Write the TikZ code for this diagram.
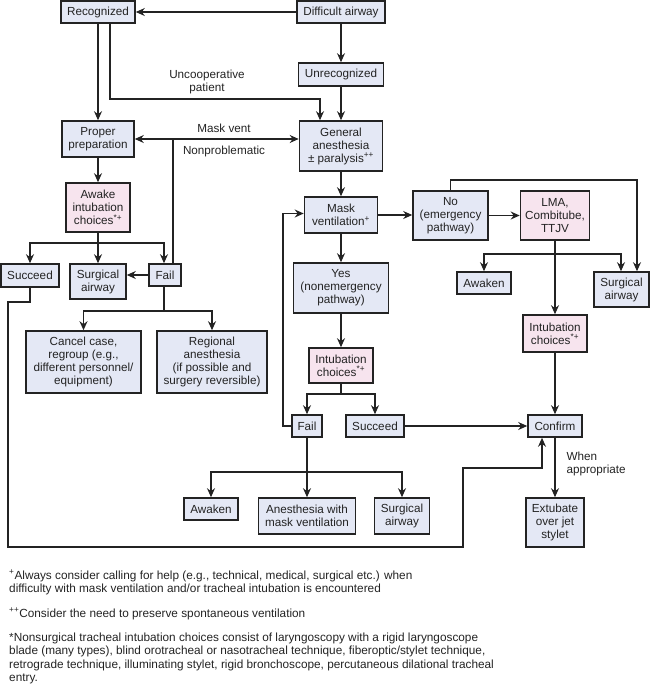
\documentclass[tikz,border=0pt]{standalone}
\usepackage{fontspec}
\setmainfont{Liberation Sans}
\usetikzlibrary{arrows.meta, positioning, calc}
\definecolor{boxblue}{RGB}{228, 232, 245}
\definecolor{boxpink}{RGB}{247, 228, 238}
\definecolor{inkgray}{RGB}{35, 35, 35}

\begin{document}
\begin{tikzpicture}[x=1pt, y=-1pt,
  box/.style={draw=inkgray, fill=boxblue, line width=1.6pt, inner sep=0pt, align=center, font=\fontsize{11.7}{13}\selectfont, text=inkgray},
  pinkbox/.style={box, fill=boxpink},
  flow/.style={-{Stealth[length=9pt, width=8pt]}, line width=1.3pt, draw=inkgray},
  link/.style={line width=1.3pt, draw=inkgray},
  note/.style={font=\fontsize{11.7}{13}\selectfont, text=inkgray, align=center},
  foot/.style={font=\fontsize{11.8}{13.2}\selectfont, text=inkgray, align=left, anchor=north west, inner sep=0pt}]
  \useasboundingbox (0,0) rectangle (650,686);

  % Recognition
  \node[box, minimum width=74, minimum height=22] (recog) at (98,12) {Recognized};
  \node[box, minimum width=88, minimum height=22] (diff) at (341,12) {Difficult airway};
  \node[box, minimum width=85, minimum height=23] (unrecog) at (341,74.5) {Unrecognized};
  \node[box, minimum width=72, minimum height=36] (prep) at (98,139) {Proper\\preparation};
  \node[box, minimum width=83, minimum height=50] (ga) at (341,146) {General\\anesthesia\\± paralysis\textsuperscript{++}};
  \node[note] (uncoop) at (207,82) {Uncooperative\\patient};
  \node[note] (mvlabel) at (224,128) {Mask vent};
  \node[note] (nonprob) at (224,151) {Nonproblematic};

  % Awake pathway
  \node[pinkbox, minimum width=64, minimum height=49] (awake) at (98,207.5) {Awake\\intubation\\choices\textsuperscript{*+}};
  \node[box, minimum width=58, minimum height=23] (succL) at (30,275.5) {Succeed};
  \node[box, minimum width=56, minimum height=35] (surgL) at (98,281.5) {Surgical\\airway};
  \node[box, minimum width=32, minimum height=22] (failL) at (165,275) {Fail};
  \node[box, minimum width=115, minimum height=62] (cancel) at (83.5,362) {Cancel case,\\regroup (e.g.,\\different personnel/\\equipment)};
  \node[box, minimum width=110, minimum height=62] (regional) at (212,362) {Regional\\anesthesia\\(if possible and\\surgery reversible)};

  % Nonemergency pathway
  \node[box, minimum width=73, minimum height=36] (mask) at (341,215) {Mask\\ventilation\textsuperscript{+}};
  \node[box, minimum width=95, minimum height=50] (yes) at (341,288) {Yes\\(nonemergency\\pathway)};
  \node[pinkbox, minimum width=64, minimum height=35] (intubM) at (341,365.5) {Intubation\\choices\textsuperscript{*+}};
  \node[box, minimum width=30, minimum height=22] (failM) at (307,426) {Fail};
  \node[box, minimum width=58, minimum height=22] (succM) at (375,426) {Succeed};
  \node[box, minimum width=54, minimum height=22] (awakenM) at (211,509) {Awaken};
  \node[box, minimum width=97, minimum height=36] (anesM) at (307,516) {Anesthesia with\\mask ventilation};
  \node[box, minimum width=55, minimum height=36] (surgM) at (402,516) {Surgical\\airway};

  % Emergency pathway
  \node[box, minimum width=75, minimum height=49] (no) at (450.5,215.5) {No\\(emergency\\pathway)};
  \node[pinkbox, minimum width=69, minimum height=49] (lma) at (555,215.5) {LMA,\\Combitube,\\TTJV};
  \node[box, minimum width=54, minimum height=22] (awakenR) at (484,283) {Awaken};
  \node[box, minimum width=55, minimum height=35] (surgR) at (621.5,289.5) {Surgical\\airway};
  \node[pinkbox, minimum width=64, minimum height=37] (intubR) at (555,333.5) {Intubation\\choices\textsuperscript{*+}};
  \node[box, minimum width=54, minimum height=22] (confirm) at (555,426) {Confirm};
  \node[box, minimum width=58, minimum height=49] (extub) at (555,522.5) {Extubate\\over jet\\stylet};
  \node[note, anchor=west, align=left] (whenapp) at (563,463.5) {When\\appropriate};

  % Connectors, top
  \draw[flow] (diff.west) -- (recog.east);
  \draw[flow] (diff) -- (unrecog);
  \draw[flow] (unrecog) -- (ga);
  \draw[flow] (recog) -- (prep);
  \coordinate (uncoopturn) at (320,99);
  \draw[flow] ($(recog.south)+(12,0)$) |- (uncoopturn) -- (uncoopturn |- ga.north);
  \draw[flow, {Stealth[length=9pt, width=8pt]}-{Stealth[length=9pt, width=8pt]}] (prep.east) -- (prep.east -| ga.west);
  \coordinate (mvjoin) at (173,139);
  \draw[link] (failL.north -| mvjoin) -- (mvjoin);

  % Connectors, awake pathway
  \draw[flow] (prep) -- (awake);
  \coordinate (awakesplit) at (98,243);
  \draw[link] (awake.south) -- (awakesplit);
  \draw[flow] (awakesplit) -| (succL.north);
  \draw[flow] (awakesplit) -- (surgL.north);
  \draw[flow] (awakesplit) -| ($(failL.north)+(-1,0)$);
  \draw[flow] (failL.west) -- (failL.west -| surgL.east);
  \coordinate (failsplit) at (164,311);
  \draw[link] ($(failL.south)+(-1,0)$) -- (failsplit);
  \draw[flow] (failsplit) -| (cancel.north);
  \draw[flow] (failsplit) -| (regional.north);
  \coordinate (loopA) at (8,302);
  \coordinate (loopB) at (8,547);
  \coordinate (loopC) at (463,468);
  \draw[flow] (succL.south) |- (loopA) -- (loopB) -| (loopC) -| ($(confirm.south)+(-13,0)$);

  % Connectors, nonemergency pathway
  \draw[flow] (ga) -- (mask);
  \draw[flow] (mask) -- (yes);
  \draw[flow] (yes) -- (intubM);
  \coordinate (intubsplit) at (341,394);
  \draw[link] (intubM.south) -- (intubsplit);
  \draw[flow] (intubsplit) -| (failM.north);
  \draw[flow] (intubsplit) -| (succM.north);
  \coordinate (retry) at (283,426);
  \draw[flow] (failM.west) -- (retry) |- ($(mask.west)+(0,-1.5)$);
  \draw[flow] (succM.east) -- (confirm.west);
  \coordinate (failsplitM) at (307,472);
  \draw[link] (failM.south) -- (failsplitM);
  \draw[flow] (failsplitM) -| (awakenM.north);
  \draw[flow] (failsplitM) -- (anesM.north);
  \draw[flow] (failsplitM) -| (surgM.north);

  % Connectors, emergency pathway
  \draw[flow] (mask.east) -- (mask.east -| no.west);
  \draw[flow] (no.east) -- (lma.west);
  \coordinate (noturn) at (637,180);
  \draw[flow] (no.north) |- (noturn) -- (noturn |- surgR.north);
  \draw[flow] (lma.south) -- (intubR.north);
  \coordinate (lmasplit) at (555,254);
  \draw[flow] (lmasplit) -| (awakenR.north);
  \draw[flow] (lmasplit) -| ($(surgR.north)+(-0.5,0)$);
  \draw[flow] (intubR.south) -- (confirm.north);
  \draw[flow] (confirm) -- (extub);

  % Footnotes
  \node[foot] (fnplus) at (9,570) {\textsuperscript{+}Always consider calling for help (e.g., technical, medical, surgical etc.) when\\difficulty with mask ventilation and/or tracheal intubation is encountered};
  \node[foot] (fnplusplus) at (9,608) {\textsuperscript{++}Consider the need to preserve spontaneous ventilation};
  \node[foot] (fnstar) at (9,633) {*Nonsurgical tracheal intubation choices consist of laryngoscopy with a rigid laryngoscope\\blade (many types), blind orotracheal or nasotracheal technique, fiberoptic/stylet technique,\\retrograde technique, illuminating stylet, rigid bronchoscope, percutaneous dilational tracheal\\entry.};
\end{tikzpicture}
\end{document}
